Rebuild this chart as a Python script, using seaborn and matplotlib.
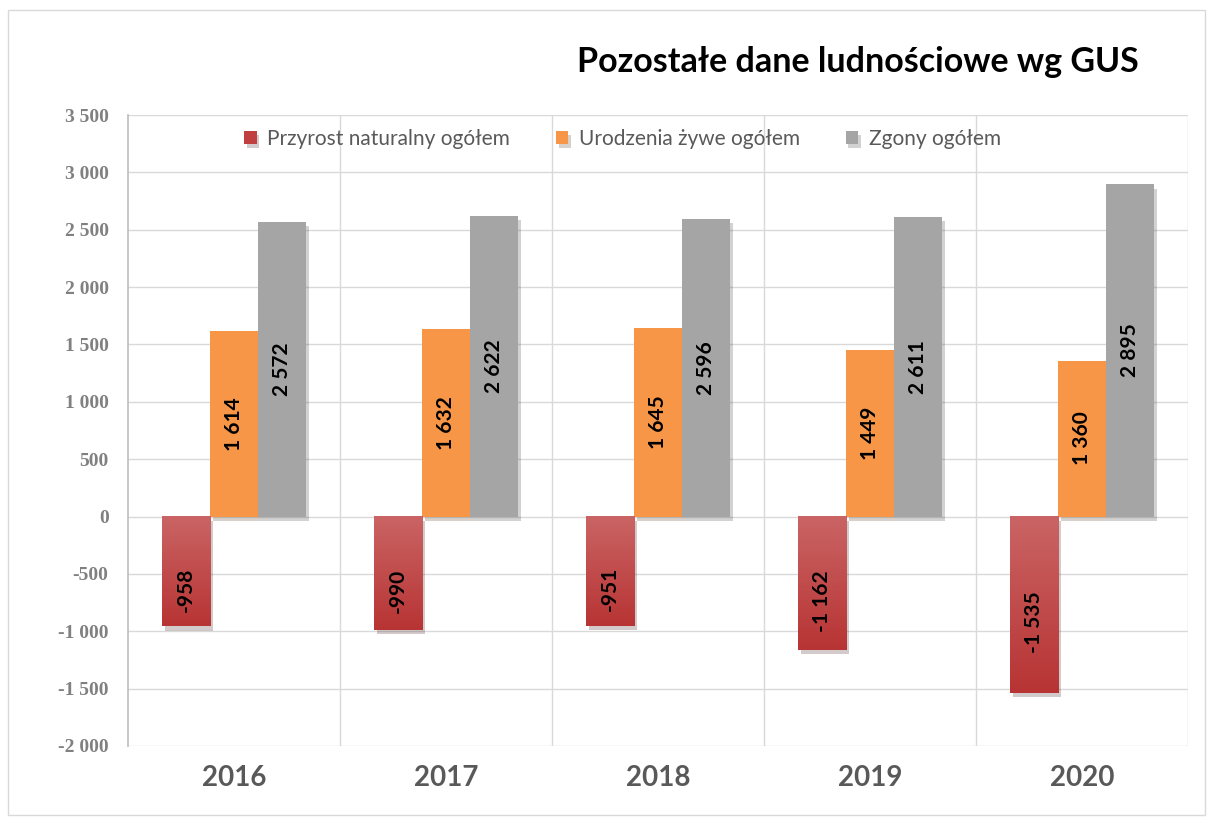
#!/usr/bin/env python3

import numpy as np
import pandas as pd
import seaborn as sns
from matplotlib import pyplot as plt
from matplotlib import patheffects
from matplotlib.colors import LinearSegmentedColormap
from matplotlib.patches import Rectangle
from matplotlib.ticker import FuncFormatter, MultipleLocator

years = ['2016', '2017', '2018', '2019', '2020']
series = ['Przyrost naturalny ogółem', 'Urodzenia żywe ogółem', 'Zgony ogółem']
przyrost = [-958, -990, -951, -1162, -1535]
urodzenia = [1614, 1632, 1645, 1449, 1360]
zgony = [2572, 2622, 2596, 2611, 2895]

colors = ['#C0403F', '#F79646', '#A5A5A5']


def fmt(v):
    return f'{int(v):,}'.replace(',', ' ')


def plot(out_file):
    df = pd.DataFrame({
        'rok': years * 3,
        'seria': [s for s in series for _ in years],
        'wartosc': przyrost + urodzenia + zgony,
    })

    sns.set_theme(style='white')
    plt.rcParams['font.family'] = ['Lato', 'DejaVu Sans']

    f = plt.figure(figsize=(12.12, 8.22), dpi=100)
    ax = f.add_axes([0.1056, 0.0925, 0.8746, 0.7675])

    sns.barplot(data=df, x='rok', y='wartosc', hue='seria',
                palette=colors, width=0.68, saturation=1,
                linewidth=0, ax=ax)

    shadow = [patheffects.SimplePatchShadow(offset=(2, -3), alpha=0.22),
              patheffects.Normal()]
    for p in ax.patches:
        p.set_path_effects(shadow)

    # red bars get a light-to-dark gradient like the original
    cmap = LinearSegmentedColormap.from_list('red', ['#B83434', '#CA6464'])
    grad = np.linspace(0, 1, 64).reshape(-1, 1)
    for p in ax.containers[0]:
        x0, y0 = p.get_x(), p.get_y()
        w, h = p.get_width(), p.get_height()
        ax.imshow(grad, cmap=cmap, aspect='auto', origin='lower',
                  extent=(x0, x0 + w, y0 + h, y0), zorder=p.get_zorder() + 0.1)

    for i, c in enumerate(ax.containers):
        anns = ax.bar_label(c, labels=[fmt(v) for v in c.datavalues],
                            label_type='center', rotation=90,
                            fontsize=15, fontweight='bold', color='black',
                            zorder=5)
        if i == 0:
            for a in anns:
                a.xyann = (0, -13)

    ax.set_ylim(-2000, 3500)
    ax.set_xlim(-0.5, 4.5)
    ax.yaxis.set_major_locator(MultipleLocator(500))
    ax.yaxis.set_major_formatter(FuncFormatter(lambda v, _: fmt(v)))
    ax.grid(axis='y', color='#D9D9D9', linewidth=1)
    for xb in [0.5, 1.5, 2.5, 3.5, 4.5]:
        ax.axvline(xb, color='#D9D9D9', linewidth=1, zorder=0)
    ax.set_axisbelow(True)

    for s in ['top', 'right', 'bottom']:
        ax.spines[s].set_visible(False)
    ax.spines['left'].set_color('#BFBFBF')

    ax.set_xlabel('')
    ax.set_ylabel('')
    ax.tick_params(axis='x', length=0, pad=14, labelsize=20, labelcolor='#595959')
    ax.tick_params(axis='y', length=0, pad=14, labelsize=14, labelcolor='#808080')
    for t in ax.get_xticklabels():
        t.set_fontweight('bold')
    for t in ax.get_yticklabels():
        t.set_family('Liberation Serif')
        t.set_fontweight('bold')

    ax.legend(loc='center', bbox_to_anchor=(0.4665, 0.962), ncol=3,
              frameon=False, fontsize=15, labelcolor='#595959',
              handlelength=0.6, handleheight=0.6, handletextpad=0.5,
              columnspacing=2.2)

    f.text(0.7075, 0.9246, 'Pozostałe dane ludnościowe wg GUS',
           ha='center', va='center', fontsize=24.5, fontweight='bold',
           color='black')

    f.patches.append(Rectangle((0.007, 0.008), 0.987, 0.98,
                               transform=f.transFigure, fill=False,
                               edgecolor='#D9D9D9', linewidth=1))

    f.savefig(out_file, dpi=100)


if __name__ == '__main__':
    plot('out.png')
